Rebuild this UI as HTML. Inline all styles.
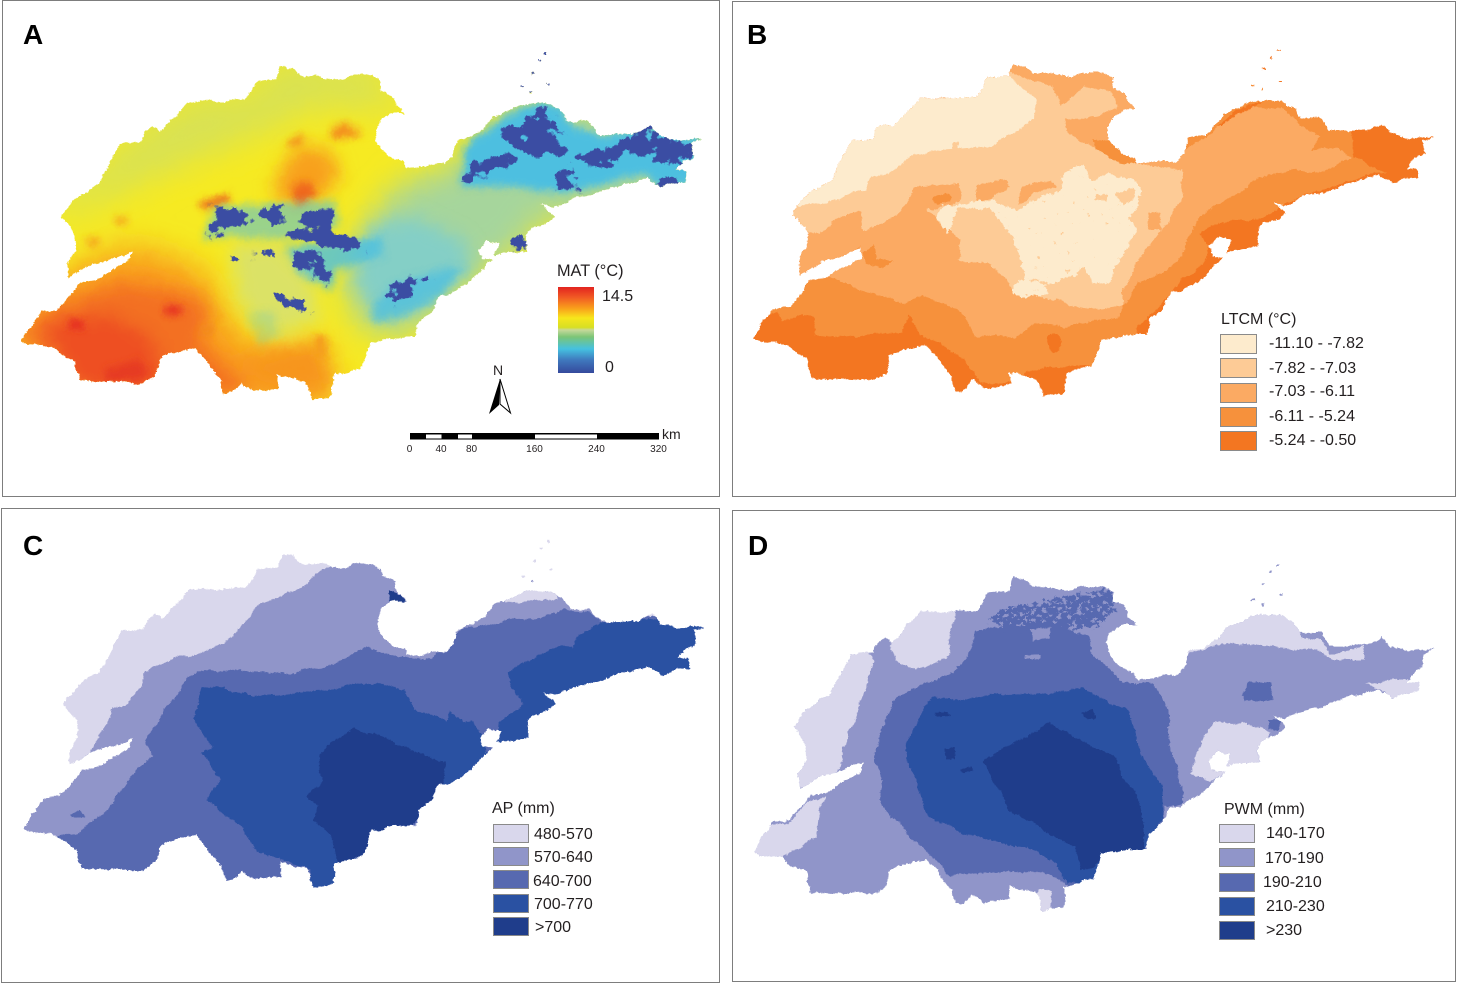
<!DOCTYPE html>
<html lang="en">
<head>
<meta charset="utf-8">
<title>Shandong climate maps</title>
<style>
html,body{margin:0;padding:0;background:#fff}
svg{display:block}
text{font-family:"Liberation Sans",sans-serif;fill:#231f20}
.panel-letter{font-size:28px;font-weight:bold;fill:#000}
.leg{font-size:16px}
.frame{fill:none;stroke:#7d7d7d;stroke-width:1}
.sw{stroke:#8a8a8a;stroke-width:1}
.tick{font-size:10px;text-anchor:middle}
</style>
</head>
<body>
<svg xmlns="http://www.w3.org/2000/svg" width="1457" height="984" viewBox="0 0 1457 984">
<defs>
<path id="outline" d="M612 40L640 50 655 68 700 72 745 82 765 68 815 68 832 85 835 110 860 125 868 155 887 180 860 180 835 200 822 235 825 270 840 295 860 315 885 325 890 345 915 342 945 335 975 335 995 310 1005 265 1040 250 1070 220 1085 190 1105 185 1140 160 1170 150 1215 155 1240 180 1255 205 1300 205 1320 245 1360 245 1410 240 1440 218 1455 250 1500 262 1555 258 1530 272 1535 315 1510 325 1495 355 1520 355 1520 385 1490 390 1460 402 1440 385 1430 375 1390 390 1350 405 1310 425 1260 440 1220 465 1195 455 1222 490 1205 510 1170 525 1160 545 1160 590 1130 600 1090 605 1100 570 1070 562 1050 590 1060 620 1085 620 1060 650 1030 690 1005 710 985 725 965 730 945 780 915 810 910 855 870 855 810 870 790 945 730 968 725 1030 680 1042 670 1000 660 985 605 965 605 1005 545 1015 520 990 500 1020 482 1022 475 980 440 920 420 885 360 900 335 920 330 965 300 990 215 985 160 985 148 925 115 900 95 880 45 875 30 865 50 820 75 775 110 770 145 720 160 690 200 680 230 650 270 625 275 595 230 620 185 635 135 675 130 630 150 590 150 545 120 490 130 465 160 425 200 395 230 320 250 270 300 265 305 235 325 220 340 235 380 180 405 145 470 145 530 140 555 85 600 80ZM1202 0h6v6h-6zM1186 20h6v5h-6zM1170 56h6v6h-6zM1146 102h8v5h-8zM1166 116h5v8h-5zM1208 90h6v4h-6z"/>
<clipPath id="clip-a"><use href="#outline" transform="translate(8.6,53) scale(.4464,.3333)"/></clipPath>
<clipPath id="clip-b"><use href="#outline" transform="translate(740,50) scale(.4464,.3333)"/></clipPath>
<clipPath id="clip-c"><use href="#outline" transform="translate(10,540.6) scale(.4464,.3333)"/></clipPath>
<clipPath id="clip-d"><use href="#outline" transform="translate(740,564) scale(.4464,.3333)"/></clipPath>
<filter id="rough" filterUnits="userSpaceOnUse" x="0" y="0" width="1457" height="984" color-interpolation-filters="sRGB">
<feTurbulence type="fractalNoise" baseFrequency=".07" numOctaves="2" seed="4" result="n1"/>
<feDisplacementMap in="SourceGraphic" in2="n1" scale="6" xChannelSelector="R" yChannelSelector="G" result="d1"/>
<feTurbulence type="fractalNoise" baseFrequency=".38" numOctaves="2" seed="9" result="n2"/>
<feDisplacementMap in="d1" in2="n2" scale="3" xChannelSelector="G" yChannelSelector="R"/>
</filter>
<filter id="fract-a" filterUnits="userSpaceOnUse" x="0" y="0" width="1457" height="984" color-interpolation-filters="sRGB">
<feGaussianBlur in="SourceAlpha" stdDeviation="3.5" result="m"/>
<feTurbulence type="fractalNoise" baseFrequency=".085" numOctaves="3" seed="7"/>
<feColorMatrix values="0 0 0 0 0 0 0 0 0 0 0 0 0 0 0 2 0 0 0 -.5" result="nA"/>
<feComposite in="m" in2="nA" operator="arithmetic" k1="0" k2="1" k3="1" k4="-1"/>
<feComponentTransfer result="t"><feFuncA type="linear" slope="7"/></feComponentTransfer>
<feFlood flood-color="#3b4da3"/>
<feComposite in2="t" operator="in"/>
</filter>
<filter id="fract-b" filterUnits="userSpaceOnUse" x="0" y="0" width="1457" height="984" color-interpolation-filters="sRGB">
<feGaussianBlur in="SourceAlpha" stdDeviation="3.5" result="m"/>
<feTurbulence type="fractalNoise" baseFrequency=".09" numOctaves="3" seed="12"/>
<feColorMatrix values="0 0 0 0 0 0 0 0 0 0 0 0 0 0 0 3.4 0 0 0 -1.3" result="nA"/>
<feComposite in="m" in2="nA" operator="arithmetic" k1="0" k2="1" k3="1" k4="-1"/>
<feComponentTransfer result="t"><feFuncA type="linear" slope="12"/></feComponentTransfer>
<feFlood flood-color="#5769b0"/>
<feComposite in2="t" operator="in"/>
</filter>
<filter id="fract-c" filterUnits="userSpaceOnUse" x="0" y="0" width="1457" height="984" color-interpolation-filters="sRGB">
<feGaussianBlur in="SourceAlpha" stdDeviation="3" result="m"/>
<feTurbulence type="fractalNoise" baseFrequency=".07" numOctaves="3" seed="21"/>
<feColorMatrix values="0 0 0 0 0 0 0 0 0 0 0 0 0 0 0 1.6 0 0 0 -.3" result="nA"/>
<feComposite in="m" in2="nA" operator="arithmetic" k1="0" k2="1" k3="1" k4="-1"/>
<feComponentTransfer result="t"><feFuncA type="linear" slope="12"/></feComponentTransfer>
<feFlood flood-color="#fdebcd"/>
<feComposite in2="t" operator="in"/>
</filter>
<filter id="b18" filterUnits="userSpaceOnUse" x="0" y="0" width="1457" height="984"><feGaussianBlur stdDeviation="16"/></filter>
<filter id="b10" filterUnits="userSpaceOnUse" x="0" y="0" width="1457" height="984"><feGaussianBlur stdDeviation="9"/></filter>
<filter id="b5" filterUnits="userSpaceOnUse" x="0" y="0" width="1457" height="984"><feGaussianBlur stdDeviation="4"/></filter>
<linearGradient id="mat-ramp" x1="0" y1="0" x2="0" y2="1">
<stop offset="0" stop-color="#e2231f"/><stop offset=".12" stop-color="#f15a24"/><stop offset=".25" stop-color="#f9a11b"/><stop offset=".36" stop-color="#f7e61c"/><stop offset=".47" stop-color="#d7df23"/><stop offset=".5" stop-color="#c5d89a"/><stop offset=".58" stop-color="#7cc576"/><stop offset=".72" stop-color="#45c1e0"/><stop offset=".85" stop-color="#3f78bd"/><stop offset="1" stop-color="#35499c"/>
</linearGradient>
</defs>

<rect width="1457" height="984" fill="#fff"/>

<!-- PANEL A -->
<g>
<rect class="frame" x="2.5" y=".5" width="717" height="496"/>
<text class="panel-letter" x="23" y="44">A</text>
<g filter="url(#rough)">
<g clip-path="url(#clip-a)">
<rect x="0" y="30" width="720" height="400" fill="#f6ea22"/>
<g filter="url(#b18)"><g transform="translate(0,40) scale(.4591,.3333)">
<polygon fill="#d9e253" points="100,520 200,400 270,300 420,160 540,160 610,50 820,80 880,210 790,210 700,200 560,290 450,350 330,420 250,470 150,530"/>
<polygon fill="#a6d59c" points="860,440 1000,370 1100,180 1560,220 1560,480 1180,540 1130,640 1050,700 960,800 900,880 810,880 770,810 750,720 780,600 820,520"/>
<polygon fill="#f9991c" points="30,790 170,680 280,620 350,640 450,700 480,800 540,920 710,920 730,1100 480,1100 130,1060 10,900"/>
</g></g>
<g filter="url(#b10)"><g transform="translate(0,40) scale(.4591,.3333)">
<polygon fill="#f36f21" points="40,880 130,790 260,730 400,760 460,800 430,900 550,1060 180,1070"/>
<polygon fill="#ee4f23" points="90,850 240,820 340,900 350,1040 170,1050 130,950"/>
<polygon fill="#f8a01b" points="610,400 640,320 710,320 745,400 720,450 650,500 590,460"/>
<polygon fill="#84cfc6" points="800,560 900,530 1010,600 1030,690 920,800 820,830 770,720"/>
<polygon fill="#dbe266" points="500,610 620,610 680,720 700,840 600,890 520,800"/>
<polygon fill="#f7951d" points="500,960 700,910 720,1050 600,1040"/>
</g></g>
<g filter="url(#b5)"><g transform="translate(0,40) scale(.4591,.3333)">
<polygon fill="#ef681d" points="630,450 665,420 695,455 650,500"/>
<polygon fill="#ee6a1e" points="430,490 500,460 500,488 445,510"/>
<polygon fill="#f4901b" points="715,280 745,245 795,285 730,300"/>
<polygon fill="#f4901b" points="625,305 655,280 662,312 635,322"/>
<polygon fill="#f5a01b" points="250,530 278,528 275,555 256,552"/>
<polygon fill="#e52a24" points="150,840 182,840 182,870 150,870"/>
<polygon fill="#e63324" points="360,795 395,795 395,825 360,825"/>
<polygon fill="#f59d1a" points="685,885 712,885 712,950 685,950"/>
<polygon fill="#f5a61b" points="190,590 215,590 215,620 190,620"/>
<polygon fill="#e63a24" points="230,990 300,960 330,1010 230,1030"/>
<polygon fill="#f0881d" points="420,880 470,850 460,880"/>
</g></g>
<g filter="url(#b5)"><g transform="translate(0,40) scale(.4591,.3333)" fill="#4ebfe0">
<polygon points="1010,320 1090,240 1150,190 1215,190 1250,260 1320,290 1400,260 1530,300 1510,430 1440,440 1400,400 1300,440 1220,460 1120,440 1005,440"/>
<polygon opacity=".75" points="810,800 860,730 960,690 1010,680 960,770 860,840 810,840"/>
<polygon opacity=".8" points="620,620 760,600 830,590 835,650 730,690 720,750 650,700"/>
<polygon opacity=".25" points="540,820 590,810 610,880 565,920"/>
<polygon opacity=".55" points="440,600 470,500 730,480 740,560 620,600 500,590"/>
</g></g>
<g filter="url(#fract-a)"><g transform="translate(0,40) scale(.4591,.3333)" fill="#3b4da3">
<polygon points="458,605 465,505 535,510 545,560 500,560 480,605"/>
<polygon points="555,500 610,505 625,550 575,550"/>
<polygon points="640,560 670,520 700,495 735,510 725,570 770,590 800,620 745,645 700,610 625,600 620,570"/>
<polygon points="630,640 680,625 715,680 722,750 690,705 640,680"/>
<polygon points="495,640 535,640 532,665 500,662"/>
<polygon points="565,635 595,635 590,660 570,655"/>
<polygon points="595,750 650,775 685,830 610,795"/>
<polygon points="825,780 860,730 935,705 905,765 840,790"/>
<polygon points="1112,610 1140,575 1155,630 1120,630"/>
<polygon points="1085,265 1140,245 1170,190 1205,245 1240,355 1160,350 1110,315"/>
<polygon points="1005,435 1020,370 1070,350 1130,340 1120,375 1060,395 1030,430"/>
<polygon points="1205,450 1220,395 1255,390 1260,450"/>
<polygon points="1250,350 1290,325 1360,320 1345,378 1285,382"/>
<polygon points="1340,290 1420,255 1435,295 1505,305 1515,360 1470,378 1380,355"/>
<polygon points="1428,415 1485,410 1475,450 1432,445"/>
</g></g>
<g transform="translate(0,40) scale(.4591,.3333)" fill="#3b4da3">
<rect x="1120" y="20" width="90" height="140"/>
</g>
</g>
</g>
<g>
<text class="leg" x="557" y="276" style="font-size:16.300px">MAT (°C)</text>
<rect x="558" y="287" width="36" height="86" fill="url(#mat-ramp)"/>
<text class="leg" x="602" y="301">14.5</text>
<text class="leg" x="605" y="372">0</text>
</g>
<g>
<text x="493" y="375" font-size="14">N</text>
<polygon points="500,379 489,414 499,405" fill="#000"/>
<polygon points="500,379 510.5,413 500,404" fill="#fff" stroke="#000" stroke-width="1"/>
</g>
<g>
<rect x="410" y="433" width="249" height="6.5" fill="#000"/>
<rect x="426" y="434.500" width="15.5" height="4" fill="#fff"/>
<rect x="458" y="434.500" width="14" height="4" fill="#fff"/>
<rect x="535" y="434.500" width="62" height="4" fill="#fff"/>
<text x="662" y="439" font-size="14">km</text>
<text class="tick" x="409.500" y="452">0</text>
<text class="tick" x="441" y="452">40</text>
<text class="tick" x="471.500" y="452">80</text>
<text class="tick" x="534.500" y="452">160</text>
<text class="tick" x="596.500" y="452">240</text>
<text class="tick" x="658.500" y="452">320</text>
</g>
</g>

<!-- PANEL B -->
<g>
<rect class="frame" x="732.500" y="1.5" width="723" height="495"/>
<text class="panel-letter" x="747" y="44">B</text>
<g filter="url(#rough)">
<g clip-path="url(#clip-b)"><g transform="translate(740,50) scale(.4464,.3333)">
<rect x="-20" y="-40" width="1640" height="1120" fill="#f37621"/>
<polygon fill="#f6913c" points="0,0 1000,0 1200,100 1370,230 1375,320 1450,370 1420,370 1300,420 1225,455 1200,480 1170,510 1110,510 1060,525 1030,550 1050,590 1040,640 1010,680 985,690 960,740 925,790 890,830 890,870 810,870 790,945 725,950 700,950 640,965 600,1000 540,1000 520,960 500,930 450,880 410,860 375,795 360,850 300,850 270,860 170,855 165,800 130,795 95,810 85,780 60,800 0,800"/>
<polygon fill="#f37621" points="1070,230 1110,185 1170,150 1150,175 1100,210"/>
<ellipse cx="705" cy="880" rx="14" ry="30" fill="#f37621"/>
<polygon fill="#fbaa63" points="590,30 800,30 870,140 900,200 830,240 830,280 880,330 890,345 960,330 1000,300 1050,250 1090,215 1150,170 1215,175 1250,220 1300,260 1280,300 1340,290 1370,320 1300,370 1250,360 1160,380 1130,420 1100,440 1030,500 1000,560 1000,600 960,660 890,700 850,800 730,830 660,820 620,860 530,860 490,780 405,735 370,760 270,720 220,690 200,680 240,640 275,590 150,700 110,680 130,600 100,500 100,440"/>
<polygon fill="#f6913c" points="790,270 830,270 885,325 890,350 850,345 800,310"/>
<polygon fill="#f6913c" points="275,610 300,585 310,630 345,630 320,655 280,640"/>
<polygon fill="#fdcb96" points="650,90 700,110 720,165 770,110 830,120 850,170 800,200 730,210 730,250 800,300 850,340 990,360 990,440 960,510 905,600 890,640 860,720 860,770 790,780 740,770 720,750 620,730 560,640 490,630 495,570 420,480 430,440 395,410 350,500 280,540 240,490 180,550 130,540 100,490 100,440 300,200 590,60"/>
<polygon fill="#fbaa63" points="240,490 270,485 275,530 245,540"/>
<polygon fill="#fbaa63" points="395,410 490,400 495,450 460,470 430,480 410,450"/>
<polygon fill="#f6913c" points="430,440 465,428 472,450 445,468"/>
<polygon fill="#fbaa63" points="530,405 600,385 605,410 560,450 530,450"/>
<polygon fill="#fbaa63" points="630,420 655,395 700,395 710,410 660,430 625,470"/>
<polygon fill="#fdebcd" points="130,470 210,450 280,420 290,385 335,370 390,310 470,300 560,290 620,240 660,210 660,170 665,150 620,100 605,80 500,60 300,180 100,430"/>
<polygon fill="#fdcb96" points="475,280 490,275 488,302 475,302"/>
<g filter="url(#fract-c)">
<polygon fill="#fdebcd" points="720,370 770,340 790,395 820,370 880,385 900,420 890,470 870,510 890,545 860,600 840,650 830,695 790,705 770,650 740,680 700,700 640,690 620,600 600,540 560,480 490,470 465,555 440,500 460,465 560,450 620,480 680,440 720,420"/>
<polygon fill="#fdebcd" points="620,690 680,700 690,730 640,745 610,730"/>
</g>
<polygon fill="#fdcb96" points="795,430 825,432 820,452 795,450"/>
<polygon fill="#fdcb96" points="840,430 880,415 885,440 860,470"/>
<polygon fill="#fbaa63" points="912,490 940,488 942,540 918,540"/>
</g></g>
</g>
<g>
<text class="leg" x="1221" y="324">LTCM (°C)</text>
<rect class="sw" x="1220.500" y="334.500" width="36" height="19" fill="#fdebcd"/>
<rect class="sw" x="1220.500" y="358.500" width="36" height="19" fill="#fdcb96"/>
<rect class="sw" x="1220.500" y="383.500" width="36" height="19" fill="#fbaa63"/>
<rect class="sw" x="1220.500" y="407.500" width="36" height="19" fill="#f6913c"/>
<rect class="sw" x="1220.500" y="431.500" width="36" height="19" fill="#f37621"/>
<text class="leg" x="1269" y="348">-11.10 - -7.82</text>
<text class="leg" x="1269" y="373">-7.82 - -7.03</text>
<text class="leg" x="1269" y="396">-7.03 - -6.11</text>
<text class="leg" x="1269" y="421">-6.11 - -5.24</text>
<text class="leg" x="1269" y="445">-5.24 - -0.50</text>
</g>
</g>

<!-- PANEL C -->
<g>
<rect class="frame" x="1.5" y="508.500" width="718" height="474"/>
<text class="panel-letter" x="23" y="555">C</text>
<g filter="url(#rough)">
<g clip-path="url(#clip-c)"><g transform="translate(10,540) scale(.4464,.3333)">
<rect x="-20" y="-40" width="1640" height="1120" fill="#d9d7ec"/>
<polygon fill="#9095c9" points="760,50 1000,50 1600,300 1600,1100 0,1100 0,700 120,690 180,640 230,505 260,500 295,440 300,400 340,365 450,330 500,290 540,225 560,195 620,160 670,130 680,105"/>
<polygon fill="#d9d7ec" points="1090,170 1220,130 1228,178 1160,182 1108,192"/>
<polygon fill="#5769b0" points="100,895 150,880 210,820 250,750 290,680 320,650 300,610 350,510 395,415 420,395 480,390 560,395 620,400 720,375 800,320 850,345 890,355 945,355 985,320 1010,265 1075,255 1120,235 1180,235 1240,210 1300,215 1320,250 1600,200 1600,1100 100,1100"/>
<polygon fill="#2a51a2" points="1320,250 1275,290 1260,325 1220,320 1180,350 1115,395 1120,440 1150,490 1095,550 1090,620 1170,620 1300,520 1600,500 1600,220"/>
<polygon fill="#2a51a2" points="430,440 480,445 540,470 630,460 700,455 770,430 840,435 880,450 910,510 975,540 985,515 1020,550 1040,545 1060,600 1070,640 1000,740 950,760 900,860 800,900 730,1050 680,1050 670,990 590,950 550,930 520,860 440,780 470,720 430,640 455,620 410,540"/>
<polygon fill="#1f3d8b" points="735,590 770,565 830,590 860,610 920,640 975,670 970,740 900,860 810,875 790,960 735,970 720,890 680,840 690,800 665,770 700,720 690,650"/>
<polygon fill="#1f3d8b" points="850,150 900,190 850,190"/>
<polygon fill="#5769b0" points="135,825 160,812 168,830 140,832"/>
</g></g>
</g>
<g>
<text class="leg" x="492" y="813">AP (mm)</text>
<rect class="sw" x="493.500" y="824.500" width="35" height="18" fill="#d9d7ec"/>
<rect class="sw" x="493.500" y="847.500" width="35" height="18" fill="#9095c9"/>
<rect class="sw" x="493.500" y="870.500" width="35" height="18" fill="#5769b0"/>
<rect class="sw" x="493.500" y="894.500" width="35" height="18" fill="#2a51a2"/>
<rect class="sw" x="493.500" y="917.500" width="35" height="18" fill="#1f3d8b"/>
<text class="leg" x="534" y="839">480-570</text>
<text class="leg" x="534" y="862">570-640</text>
<text class="leg" x="533" y="886">640-700</text>
<text class="leg" x="534" y="909">700-770</text>
<text class="leg" x="535" y="932">&gt;700</text>
</g>
</g>

<!-- PANEL D -->
<g>
<rect class="frame" x="732.500" y="510.500" width="723" height="471"/>
<text class="panel-letter" x="748" y="555">D</text>
<g filter="url(#rough)">
<g clip-path="url(#clip-d)"><g transform="translate(740,560) scale(.4464,.3333)">
<rect x="-20" y="-40" width="1640" height="1120" fill="#9095c9"/>
<polygon fill="#d9d7ec" points="380,130 485,150 470,220 470,280 440,310 395,330 350,300 335,270 340,235 360,180"/>
<polygon fill="#d9d7ec" points="285,270 220,280 190,400 100,440 100,500 130,560 110,700 210,640 225,620 240,520 260,470 280,390 300,300"/>
<polygon fill="#d9d7ec" points="190,705 150,730 110,790 60,800 10,880 40,910 95,890 170,830 180,750"/>
<polygon fill="#d9d7ec" points="1000,270 1060,190 1170,150 1240,170 1260,230 1300,240 1320,280 1400,260 1400,300 1330,300 1290,270 1160,255 1080,250 1030,270 1000,290"/>
<polygon fill="#d9d7ec" points="1400,370 1540,350 1520,420 1460,430 1440,390"/>
<polygon fill="#d9d7ec" points="1060,490 1130,490 1190,515 1180,550 1170,610 1090,630 1050,665 1010,640 1020,590 1040,530"/>
<polygon fill="#d9d7ec" points="665,985 700,995 698,1070 665,1065"/>
<polygon fill="#5769b0" points="530,210 600,200 700,190 780,230 790,290 830,330 860,365 925,370 960,450 960,530 975,610 990,680 990,730 950,740 950,790 905,870 810,885 790,975 735,975 720,960 680,935 600,935 470,945 420,880 340,770 310,720 320,660 300,600 320,500 350,410 420,370 480,335 510,290"/>
<polygon fill="#5769b0" points="1125,400 1140,365 1190,365 1195,420 1130,425"/>
<g filter="url(#fract-b)">
<polygon fill="#5769b0" points="580,150 650,130 750,105 825,90 845,140 800,205 620,215 560,190"/>
</g>
<polygon fill="#9095c9" points="650,210 700,200 690,235 660,240"/>
<polygon fill="#9095c9" points="640,285 675,282 670,300 640,300"/>
<polygon fill="#5769b0" points="1180,480 1210,480 1205,510 1185,505"/>
<polygon fill="#2a51a2" points="430,410 480,420 600,400 700,400 770,385 830,430 870,450 885,510 900,590 945,680 948,780 905,870 810,885 790,970 735,970 700,900 650,870 500,820 420,770 400,680 380,620 370,550 400,480"/>
<polygon fill="#1f3d8b" points="545,600 580,570 640,530 690,490 750,530 790,560 840,590 860,660 890,700 905,800 905,870 810,885 790,930 760,925 750,860 680,810 610,760 580,690 560,640"/>
<polygon fill="#1f3d8b" points="435,460 465,452 470,465 440,472"/>
<polygon fill="#1f3d8b" points="765,460 790,445 795,475 775,480"/>
<polygon fill="#1f3d8b" points="458,570 480,560 482,595 460,595"/>
<polygon fill="#1f3d8b" points="495,625 520,618 525,635 500,635"/>
</g></g>
</g>
<g>
<text class="leg" x="1224" y="814">PWM (mm)</text>
<rect class="sw" x="1219.500" y="824.500" width="35" height="18" fill="#d9d7ec"/>
<rect class="sw" x="1219.500" y="848.500" width="35" height="18" fill="#9095c9"/>
<rect class="sw" x="1219.500" y="873.500" width="35" height="18" fill="#5769b0"/>
<rect class="sw" x="1219.500" y="897.500" width="35" height="18" fill="#2a51a2"/>
<rect class="sw" x="1219.500" y="921.500" width="35" height="18" fill="#1f3d8b"/>
<text class="leg" x="1266" y="838">140-170</text>
<text class="leg" x="1265" y="863">170-190</text>
<text class="leg" x="1263" y="887">190-210</text>
<text class="leg" x="1266" y="911">210-230</text>
<text class="leg" x="1266" y="935">&gt;230</text>
</g>
</g>
</svg>
</body>
</html>
